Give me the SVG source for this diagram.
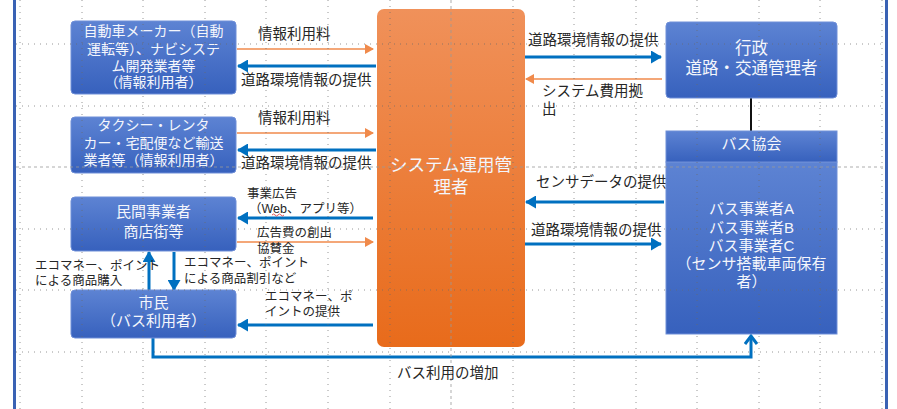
<svg xmlns="http://www.w3.org/2000/svg" width="897" height="409" viewBox="0 0 897 409">
<style>
.lbl{font-family:"Liberation Sans","Noto Sans CJK JP",sans-serif;fill:#262626;}
.bt{font-family:"Liberation Sans","Noto Sans CJK JP",sans-serif;fill:#f4f6fc;text-anchor:middle;}
.bl{stroke:#0070c0;stroke-width:3;fill:none;}
.or{stroke:#f08a4b;stroke-width:1.5;fill:none;}
.gd{stroke:#6b6b6b;stroke-width:1;stroke-dasharray:1 5;fill:none;opacity:0.7;}
.gc{stroke:#9a9a9a;stroke-width:1;stroke-dasharray:3 3;fill:none;opacity:0.8;}
.box{fill:url(#gb);stroke:#6f8fd8;stroke-width:1;}
</style>
<defs>
<linearGradient id="gb" x1="0" y1="0" x2="0" y2="1">
<stop offset="0" stop-color="#5d83d3"/><stop offset="1" stop-color="#3761bd"/>
</linearGradient>
<linearGradient id="go" x1="0" y1="0" x2="0" y2="1">
<stop offset="0" stop-color="#f0915a"/><stop offset="1" stop-color="#e86b1b"/>
</linearGradient>
<marker id="ab" markerUnits="userSpaceOnUse" markerWidth="11" markerHeight="13" refX="10" refY="6.5" orient="auto"><path d="M0,0 L11,6.5 L0,13 z" fill="#0070c0"/></marker>
<marker id="ao" markerUnits="userSpaceOnUse" markerWidth="9" markerHeight="10" refX="8" refY="5" orient="auto"><path d="M0,0 L9,5 L0,10 z" fill="#f08a4b"/></marker>
<marker id="ac" markerUnits="userSpaceOnUse" markerWidth="14" markerHeight="14" refX="10" refY="7" orient="auto"><path d="M2,1 L10,7 L2,13" fill="none" stroke="#0070c0" stroke-width="3"/></marker>
</defs>
<rect x="0" y="0" width="897" height="409" fill="#ffffff"/>
<rect x="13" y="0" width="3" height="409" fill="#3a62b4"/>
<rect x="885" y="0" width="3" height="409" fill="#3a62b4"/>

<g id="connectors">
<line class="or" x1="237" y1="49" x2="373" y2="49" marker-end="url(#ao)"/>
<line class="bl" x1="376" y1="66" x2="238" y2="66" marker-end="url(#ab)"/>
<line class="or" x1="237" y1="133" x2="373" y2="133" marker-end="url(#ao)"/>
<line class="bl" x1="376" y1="150" x2="238" y2="150" marker-end="url(#ab)"/>
<line class="bl" x1="373" y1="218" x2="238" y2="218" marker-end="url(#ab)"/>
<line class="or" x1="237" y1="242" x2="373" y2="242" marker-end="url(#ao)"/>
<line class="bl" x1="373" y1="325" x2="238" y2="325" marker-end="url(#ab)"/>
<line class="bl" x1="149" y1="290" x2="149" y2="252" marker-end="url(#ab)"/>
<line class="bl" x1="174" y1="252" x2="174" y2="290" marker-end="url(#ab)"/>
<polyline class="bl" points="153,338 153,357 751,357 751,336" marker-end="url(#ac)"/>
<line class="bl" x1="525" y1="57" x2="661" y2="57" marker-end="url(#ab)"/>
<line class="or" x1="662" y1="79" x2="526" y2="79" marker-end="url(#ao)"/>
<line class="bl" x1="664" y1="202" x2="526" y2="202" marker-end="url(#ab)"/>
<line class="bl" x1="525" y1="244" x2="661" y2="244" marker-end="url(#ab)"/>
<line x1="751" y1="98" x2="751" y2="131" stroke="#111" stroke-width="2"/>
</g>

<g id="labels">
<text class="lbl" x="258" y="39" font-size="14.5">情報利用料</text>
<text class="lbl" x="241" y="85" font-size="14.5">道路環境情報の提供</text>
<text class="lbl" x="258" y="123" font-size="14.5">情報利用料</text>
<text class="lbl" x="241" y="168" font-size="14.5">道路環境情報の提供</text>
<text class="lbl" x="247" y="198" font-size="12.5">事業広告</text>
<text class="lbl" x="249" y="213" font-size="12.5">（Web、アプリ等）</text>
<path d="M272,215 q1.5,-2 3,0 t3,0 t3,0 t3,0" fill="none" stroke="#e03030" stroke-width="0.8"/>
<text class="lbl" x="257" y="237" font-size="12.5">広告費の創出</text>
<text class="lbl" x="257" y="253" font-size="12.5">協賛金</text>
<text class="lbl" x="35" y="270" font-size="12.5">エコマネー、ポイント</text>
<text class="lbl" x="35" y="285" font-size="12.5">による商品購入</text>
<text class="lbl" x="184" y="267" font-size="12.5">エコマネー、ポイント</text>
<text class="lbl" x="184" y="283" font-size="12.5">による商品割引など</text>
<text class="lbl" x="265" y="301" font-size="12.5">エコマネー、ポ</text>
<text class="lbl" x="265" y="316" font-size="12.5">イントの提供</text>
<text class="lbl" x="397" y="378" font-size="14.5">バス利用の増加</text>
<text class="lbl" x="528" y="45" font-size="14.5">道路環境情報の提供</text>
<text class="lbl" x="542" y="96" font-size="14.5">システム費用拠</text>
<text class="lbl" x="542" y="114" font-size="14.5">出</text>
<text class="lbl" x="536" y="187" font-size="14.5">センサデータの提供</text>
<text class="lbl" x="531" y="235" font-size="14.5">道路環境情報の提供</text>
</g>

<g id="n-auto">
<rect class="box" x="71" y="21" width="165" height="73" rx="4"/>
<text class="bt" x="153.5" y="36" font-size="14">自動車メーカー（自動</text>
<text class="bt" x="153.5" y="54" font-size="14">運転等）、ナビシステ</text>
<text class="bt" x="153.5" y="71" font-size="14">ム開発業者等</text>
<text class="bt" x="153.5" y="87" font-size="14">（情報利用者）</text>
</g>
<g id="n-taxi">
<rect class="box" x="71" y="117" width="165" height="56" rx="4"/>
<text class="bt" x="153.5" y="130" font-size="14">タクシー・レンタ</text>
<text class="bt" x="153.5" y="148" font-size="14">カー・宅配便など輸送</text>
<text class="bt" x="153.5" y="165" font-size="14">業者等（情報利用者）</text>
</g>
<g id="n-minkan">
<rect class="box" x="71" y="197" width="165" height="54" rx="4"/>
<text class="bt" x="153.5" y="217" font-size="15">民間事業者</text>
<text class="bt" x="153.5" y="237" font-size="15">商店街等</text>
</g>
<g id="n-shimin">
<rect class="box" x="71" y="290" width="165" height="48" rx="4"/>
<text class="bt" x="153.5" y="308" font-size="15">市民</text>
<text class="bt" x="153.5" y="326" font-size="15">（バス利用者）</text>
</g>
<g id="n-system">
<rect x="377" y="9" width="148" height="338" rx="7" fill="url(#go)"/>
<text class="bt" x="451" y="171" font-size="17.5">システム運用管</text>
<text class="bt" x="451" y="193" font-size="17.5">理者</text>
</g>
<g id="n-gyosei">
<rect class="box" x="666" y="22" width="171" height="76" rx="4"/>
<text class="bt" x="751.5" y="54" font-size="16.5">行政</text>
<text class="bt" x="751.5" y="74" font-size="16.5">道路・交通管理者</text>
</g>
<g id="n-bus">
<rect x="666" y="162" width="171" height="172" fill="url(#gb)" stroke="#6f8fd8" stroke-width="1"/>
<rect x="666" y="131" width="171" height="31" fill="url(#gb)" stroke="#6f8fd8" stroke-width="1"/>
<text class="bt" x="751.5" y="149" font-size="15">バス協会</text>
<text class="bt" x="751.5" y="214" font-size="15">バス事業者A</text>
<text class="bt" x="751.5" y="233" font-size="15">バス事業者B</text>
<text class="bt" x="751.5" y="251" font-size="15">バス事業者C</text>
<text class="bt" x="751.5" y="269" font-size="15">（センサ搭載車両保有</text>
<text class="bt" x="751.5" y="287" font-size="15">者）</text>
</g>

<g id="grid">
<path class="gd" d="M20,0V409 M82,0V409 M143,0V409 M205,0V409 M266,0V409 M328,0V409 M390,0V409 M513,0V409 M574,0V409 M636,0V409 M697,0V409 M759,0V409 M820,0V409 M882,0V409"/>
<path class="gd" d="M16,44H885 M16,106H885 M16,229H885 M16,290H885 M16,352H885"/>
<path class="gc" d="M451,0V409 M16,167H885"/>
</g>
</svg>
